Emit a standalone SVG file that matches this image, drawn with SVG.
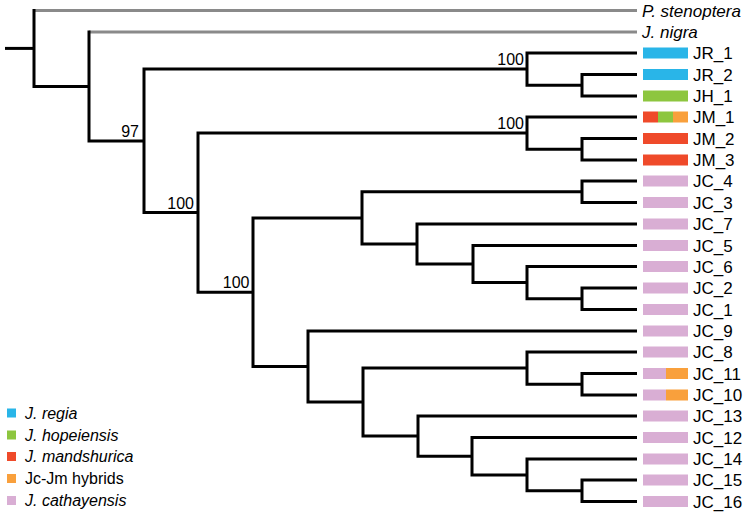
<svg xmlns="http://www.w3.org/2000/svg" width="750" height="518" viewBox="0 0 750 518">
<style>
.br{fill:none;stroke:#000;stroke-width:3;stroke-linejoin:miter}
.gr{fill:none;stroke:#8a8a8a;stroke-width:3}
.lb{font-family:"Liberation Sans",Arial,sans-serif;font-size:17px;fill:#000}
.it{font-style:italic}
.bs{font-family:"Liberation Sans",Arial,sans-serif;font-size:16px;fill:#000;text-anchor:end}
.lg{font-family:"Liberation Sans",Arial,sans-serif;font-size:16px;fill:#000}
.b{fill:#29b5e8}.g{fill:#8dc63f}.r{fill:#ef4a2a}.o{fill:#f9a03c}.p{fill:#d9aed4}
</style>
<rect width="750" height="518" fill="#fff"/>
<g id="connectors">
<path class="gr" d="M34 10.5 H637 M89 32 H637"/>
<path class="br" d="M5 48.4 H34"/>
<path class="br" d="M34 9 V86.4 H89"/>
<path class="br" d="M89 30.5 V140.9 H144"/>
<path class="br" d="M527 69.1 H144 V212.6 H198"/>
<path class="br" d="M527 133.1 H198 V292.2 H253"/>
<path class="br" d="M362 217.9 H253 V366.5 H308"/>
<path class="br" d="M637 53 H527 V85.25 H582"/>
<path class="br" d="M637 74.5 H582 V96 H637"/>
<path class="br" d="M637 117 H527 V149.25 H582"/>
<path class="br" d="M637 138.5 H582 V160 H637"/>
<path class="br" d="M582 191.75 H362 V244 H417"/>
<path class="br" d="M637 181 H582 V202.5 H637"/>
<path class="br" d="M637 224 H417 V264 H473"/>
<path class="br" d="M637 245.5 H473 V282.6 H527"/>
<path class="br" d="M637 266.5 H527 V298.75 H582"/>
<path class="br" d="M637 288 H582 V309.5 H637"/>
<path class="br" d="M637 331 H308 V402.1 H363"/>
<path class="br" d="M527 368.1 H363 V436.1 H418"/>
<path class="br" d="M637 352 H527 V384.25 H582"/>
<path class="br" d="M637 373.5 H582 V395 H637"/>
<path class="br" d="M637 416 H418 V456.2 H472"/>
<path class="br" d="M637 437.5 H472 V474.9 H527"/>
<path class="br" d="M637 459 H527 V490.75 H582"/>
<path class="br" d="M637 480 H582 V501.5 H637"/>
</g>
<g id="support">
<text class="bs" x="139" y="137">97</text>
<text class="bs" x="194" y="208.5">100</text>
<text class="bs" x="249.5" y="288">100</text>
<text class="bs" x="524" y="65">100</text>
<text class="bs" x="524" y="129">100</text>
</g>
<g id="P_stenoptera"><text class="lb it" x="642" y="16.5">P. stenoptera</text></g>
<g id="J_nigra"><text class="lb it" x="642" y="38">J. nigra</text></g>
<g id="JR_1"><rect class="b" x="643" y="47.5" width="45" height="11"/><text class="lb" x="693" y="59">JR_1</text></g>
<g id="JR_2"><rect class="b" x="643" y="69" width="45" height="11"/><text class="lb" x="693" y="80.5">JR_2</text></g>
<g id="JH_1"><rect class="g" x="643" y="90.5" width="45" height="11"/><text class="lb" x="693" y="102">JH_1</text></g>
<g id="JM_1"><rect class="r" x="643" y="111.5" width="15" height="11"/><rect class="g" x="658" y="111.5" width="15" height="11"/><rect class="o" x="673" y="111.5" width="15" height="11"/><text class="lb" x="693" y="123">JM_1</text></g>
<g id="JM_2"><rect class="r" x="643" y="133" width="45" height="11"/><text class="lb" x="693" y="144.5">JM_2</text></g>
<g id="JM_3"><rect class="r" x="643" y="154.5" width="45" height="11"/><text class="lb" x="693" y="166">JM_3</text></g>
<g id="JC_4"><rect class="p" x="643" y="175.5" width="45" height="11"/><text class="lb" x="693" y="187">JC_4</text></g>
<g id="JC_3"><rect class="p" x="643" y="197" width="45" height="11"/><text class="lb" x="693" y="208.5">JC_3</text></g>
<g id="JC_7"><rect class="p" x="643" y="218.5" width="45" height="11"/><text class="lb" x="693" y="230">JC_7</text></g>
<g id="JC_5"><rect class="p" x="643" y="240" width="45" height="11"/><text class="lb" x="693" y="251.5">JC_5</text></g>
<g id="JC_6"><rect class="p" x="643" y="261" width="45" height="11"/><text class="lb" x="693" y="272.5">JC_6</text></g>
<g id="JC_2"><rect class="p" x="643" y="282.5" width="45" height="11"/><text class="lb" x="693" y="294">JC_2</text></g>
<g id="JC_1"><rect class="p" x="643" y="304" width="45" height="11"/><text class="lb" x="693" y="315.5">JC_1</text></g>
<g id="JC_9"><rect class="p" x="643" y="325.5" width="45" height="11"/><text class="lb" x="693" y="337">JC_9</text></g>
<g id="JC_8"><rect class="p" x="643" y="346.5" width="45" height="11"/><text class="lb" x="693" y="358">JC_8</text></g>
<g id="JC_11"><rect class="p" x="643" y="368" width="23" height="11"/><rect class="o" x="666" y="368" width="22" height="11"/><text class="lb" x="693" y="379.5">JC_11</text></g>
<g id="JC_10"><rect class="p" x="643" y="389.5" width="23" height="11"/><rect class="o" x="666" y="389.5" width="22" height="11"/><text class="lb" x="693" y="401">JC_10</text></g>
<g id="JC_13"><rect class="p" x="643" y="410.5" width="45" height="11"/><text class="lb" x="693" y="422">JC_13</text></g>
<g id="JC_12"><rect class="p" x="643" y="432" width="45" height="11"/><text class="lb" x="693" y="443.5">JC_12</text></g>
<g id="JC_14"><rect class="p" x="643" y="453.5" width="45" height="11"/><text class="lb" x="693" y="465">JC_14</text></g>
<g id="JC_15"><rect class="p" x="643" y="474.5" width="45" height="11"/><text class="lb" x="693" y="486">JC_15</text></g>
<g id="JC_16"><rect class="p" x="643" y="496" width="45" height="11"/><text class="lb" x="693" y="507.5">JC_16</text></g>
<g id="legend">
<rect class="b" x="7" y="408.5" width="9" height="9"/><text class="lg it" x="25" y="418.5">J. regia</text>
<rect class="g" x="7" y="430.5" width="9" height="9"/><text class="lg it" x="25" y="440.5">J. hopeiensis</text>
<rect class="r" x="7" y="452" width="9" height="9"/><text class="lg it" x="25" y="462">J. mandshurica</text>
<rect class="o" x="7" y="474" width="9" height="9"/><text class="lg" x="25" y="484">Jc-Jm hybrids</text>
<rect class="p" x="7" y="496" width="9" height="9"/><text class="lg it" x="25" y="506">J. cathayensis</text>
</g>
</svg>
